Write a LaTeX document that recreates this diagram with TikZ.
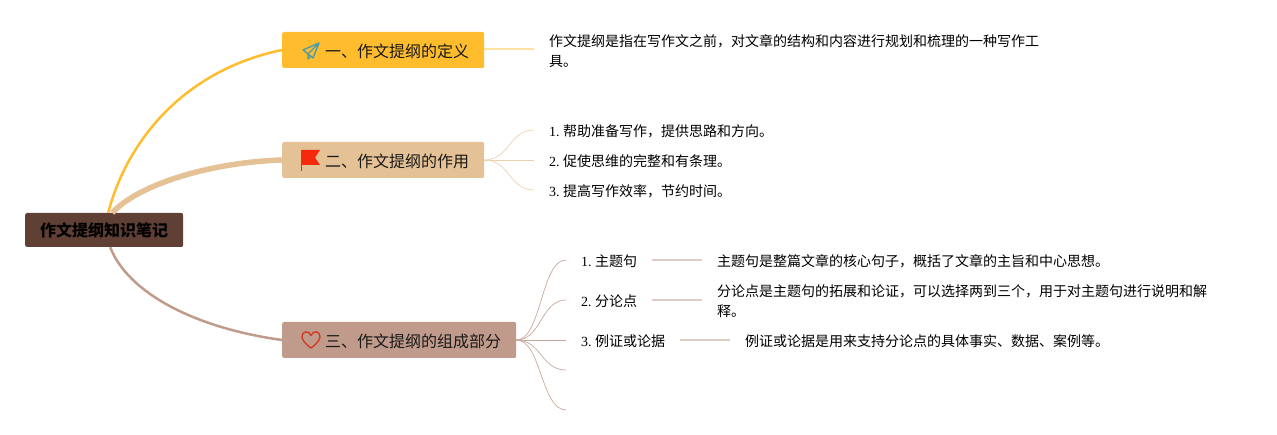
\documentclass[tikz,border=0pt]{standalone}
\usepackage{fontspec}
\setmainfont{Noto Sans CJK SC}
\newfontfamily\latinfont{Liberation Serif}
\newcommand{\numlabel}[1]{{\latinfont #1.\kern3.5pt}}
\definecolor{rootcol}{HTML}{603F34}
\definecolor{onecol}{HTML}{FFBD2E}
\definecolor{twocol}{HTML}{E5C295}
\definecolor{threecol}{HTML}{C09A8B}
\definecolor{planecol}{HTML}{4E9CA8}
\definecolor{flagcol}{HTML}{F5290E}
\definecolor{heartcol}{HTML}{D13B26}
\tikzset{
  rootbox/.style={fill=rootcol,rounded corners=2pt,minimum height=34pt,inner xsep=15pt,inner ysep=0pt,anchor=west,text=black,font=\fontsize{16}{20}\selectfont\bfseries},
  branch/.style={rounded corners=2pt,minimum height=36pt,inner xsep=15pt,inner ysep=0pt,anchor=west,text=black!90,text height=15pt,text depth=0pt,font=\fontsize{16}{20}\selectfont},
  leaf/.style={anchor=west,inner xsep=15pt,inner ysep=0pt,align=left,text=black,yshift=-0.4pt,font=\fontsize{14}{20}\selectfont},
}
\begin{document}
\begin{tikzpicture}[x=1pt,y=-1pt]
  \useasboundingbox (0,0) rectangle (1277,435);
  \node[rootbox] (root) at (25,230) {作文提纲知识笔记};
  \node[branch,fill=onecol] (bone) at (282,50) {\hspace*{28pt}一、作文提纲的定义};
  \node[branch,fill=twocol] (btwo) at (282,160) {\hspace*{28pt}二、作文提纲的作用};
  \node[branch,fill=threecol] (bthree) at (282,340) {\hspace*{28pt}三、作文提纲的组成部分};
  % main branches
  \draw[onecol,line width=2.5pt] ([xshift=4pt]root.north) .. controls +(19,-73) and +(-97,20) .. (bone.west);
  \draw[twocol,line width=5.5pt] ([xshift=8pt]root.north) .. controls +(28,-30) and +(-67,2) .. (btwo.west);
  \draw[threecol,line width=2.5pt] ([xshift=6pt]root.south) .. controls +(18,46) and +(-87,-12) .. (bthree.west);
  % first branch
  \node[leaf] (defn) at (534,51) {作文提纲是指在写作文之前，对文章的结构和内容进行规划和梳理的一种写作工\\具。};
  \draw[onecol!45,line width=1.5pt] ([yshift=1pt]bone.east) -- ([yshift=1pt]bone.east -| defn.west);
  % second branch
  \node[leaf] (useone) at (534,131) {\numlabel{1}帮助准备写作，提供思路和方向。};
  \node[leaf] (usetwo) at (534,161) {\numlabel{2}促使思维的完整和有条理。};
  \node[leaf] (usethree) at (534,191) {\numlabel{3}提高写作效率，节约时间。};
  \foreach \target in {useone,usetwo,usethree}
    \draw[twocol!75,line width=0.7pt] (btwo.east) .. controls +(25,0) and +(-25,0) .. ([yshift=1.4pt]\target.west);
  % third branch
  \node[leaf] (partone) at (566,261) {\numlabel{1}主题句};
  \node[leaf] (parttwo) at (566,301) {\numlabel{2}分论点};
  \node[leaf] (partthree) at (566,341) {\numlabel{3}例证或论据};
  \coordinate (partfour) at (566,370);
  \coordinate (partfive) at (566,410);
  \foreach \target in {partone.west,parttwo.west,partthree.west}
    \draw[threecol!85,line width=0.7pt] (bthree.east) .. controls +(25,0) and +(-25,0) .. ([yshift=1.4pt]\target);
  \foreach \target in {partfour,partfive}
    \draw[threecol!85,line width=0.7pt] (bthree.east) .. controls +(25,0) and +(-25,0) .. (\target);
  \node[leaf] (textone) at (702,261) {主题句是整篇文章的核心句子，概括了文章的主旨和中心思想。};
  \node[leaf] (texttwo) at (702,301) {分论点是主题句的拓展和论证，可以选择两到三个，用于对主题句进行说明和解\\释。};
  \node[leaf] (textthree) at (730,341) {例证或论据是用来支持分论点的具体事实、数据、案例等。};
  \draw[threecol!50,line width=1.5pt] ([yshift=1.4pt]partone.east) -- ([yshift=1.4pt]textone.west);
  \draw[threecol!50,line width=1.5pt] ([yshift=1.4pt]parttwo.east) -- ([yshift=1.4pt]texttwo.west);
  \draw[threecol!50,line width=1.5pt] ([yshift=1.4pt]partthree.east) -- ([yshift=1.4pt]textthree.west);
  % icons
  \draw[planecol,line width=1.4pt,line join=round] (319,43) -- (303,50) -- (308,54) -- (313,58) -- cycle (319,43) -- (308,54) -- (308,59) -- (311,56);
  \fill[flagcol] (302,150) -- (320,150) -- (315,157.5) -- (320,165) -- (302,165) -- cycle;
  \draw[flagcol,line width=1pt] (301.5,150) -- (301.5,171);
  \draw[heartcol,line width=1.4pt,line join=round] (311,348) .. controls (304,343) and (302,339) .. (302,336.5) .. controls (302,331) and (309,330) .. (311,335.5) .. controls (313,330) and (320,331) .. (320,336.5) .. controls (320,339) and (318,343) .. (311,348) -- cycle;
\end{tikzpicture}
\end{document}
